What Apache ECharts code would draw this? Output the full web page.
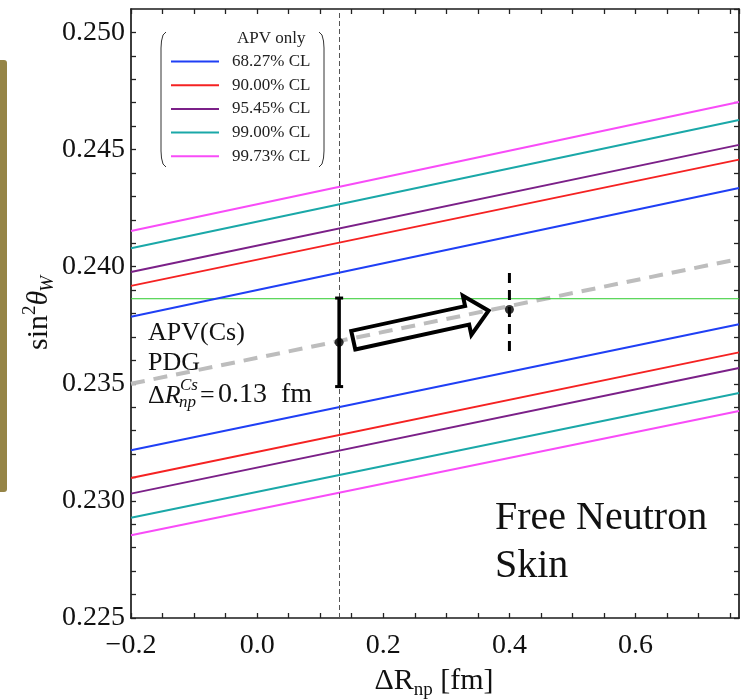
<!DOCTYPE html>
<html><head><meta charset="utf-8">
<script src="https://cdn.jsdelivr.net/npm/echarts@6/dist/echarts.min.js"></script>
<style>html,body{margin:0;padding:0;background:#fff}#c{width:743px;height:700px}</style>
</head><body><div id="c"></div>
<script>
// ---- data ----
const xEnds = [-0.2, 0.764];
const clNames = ['68.27% CL', '90.00% CL', '95.45% CL', '99.00% CL', '99.73% CL'];
const upper68 = [0.23786, 0.24336];
const upper90 = [0.23918, 0.24457];
const upper9545 = [0.23977, 0.24520];
const upper99 = [0.24079, 0.24626];
const upper9973 = [0.24152, 0.24703];
const lower68 = [0.23216, 0.23754];
const lower90 = [0.23098, 0.23634];
const lower9545 = [0.23031, 0.23567];
const lower99 = [0.22928, 0.23461];
const lower9973 = [0.22853, 0.23384];
const fitLine = [0.2350, 0.24033];
const pdgValue = 0.23863;
const apvX = 0.13, apvY = 0.23677, apvErr = 0.00189;
const shiftX = 0.4, shiftY = 0.23817, shiftErr = 0.00177;
const arrowTail = [0.1524, 0.23686];
const arrowTip = [0.367, 0.23812];
const xTicks = [-0.2, 0.0, 0.2, 0.4, 0.6];
const yTicks = [0.225, 0.230, 0.235, 0.240, 0.245, 0.250];

const uppers = [upper68, upper90, upper9545, upper99, upper9973];
const lowers = [lower68, lower90, lower9545, lower99, lower9973];
const colors = ['#1f3ff5', '#f52222', '#7b2088', '#1aa8a8', '#f84cf8'];
const SERIF = '"Liberation Serif", "DejaVu Serif", serif';

const mctx = document.createElement('canvas').getContext('2d');
function tw(t, size, italic) {
  mctx.font = (italic ? 'italic ' : '') + size + 'px ' + SERIF;
  return mctx.measureText(t).width;
}
function run(pieces, startX, cy) {
  let x = startX;
  return pieces.map(p => {
    const el = {type: 'text', x: x, y: cy + (p.dy || 0), silent: true,
      style: {text: p.t, fontFamily: SERIF, fontSize: p.s, fontStyle: p.it ? 'italic' : 'normal',
        fill: '#111', verticalAlign: 'middle', align: 'left'}};
    x += tw(p.t, p.s, p.it) + (p.gap || 0);
    return el;
  });
}
function runWidth(pieces) {
  return pieces.reduce((a, p) => a + tw(p.t, p.s, p.it) + (p.gap || 0), 0);
}

const chart = echarts.init(document.getElementById('c'), null, {renderer: 'canvas'});

const series = [];
clNames.forEach((n, i) => {
  [uppers[i], lowers[i]].forEach(arr => {
    series.push({
      name: n, type: 'line', symbol: 'none', silent: true,
      data: xEnds.map((x, j) => [x, arr[j]]),
      lineStyle: {color: colors[i], width: 2}, itemStyle: {color: colors[i]}, z: 3
    });
  });
});
series.push({
  name: 'fit', type: 'line', symbol: 'none', silent: true,
  data: xEnds.map((x, j) => [x, fitLine[j]]),
  lineStyle: {color: '#bdbdbd', width: 4, type: [14, 9]}, z: 2,
  markLine: {silent: true, symbol: 'none', label: {show: false},
    lineStyle: {color: '#555', width: 1, type: [5, 3]}, data: [{xAxis: apvX}]}
});
series.push({
  name: 'pdg', type: 'line', symbol: 'none', silent: true,
  data: xEnds.map(x => [x, pdgValue]),
  lineStyle: {color: '#2ecc2e', width: 1}, z: 2
});
series.push({
  name: 'apvErr', type: 'line', symbol: 'rect', symbolSize: [8, 3], showSymbol: true, silent: true,
  data: [[apvX, apvY - apvErr], [apvX, apvY + apvErr]],
  lineStyle: {color: '#000', width: 3.5}, itemStyle: {color: '#000'}, z: 5
});
series.push({
  name: 'shiftErr', type: 'line', symbol: 'none', silent: true,
  data: [[shiftX, shiftY - shiftErr], [shiftX, shiftY + shiftErr]],
  lineStyle: {color: '#000', width: 3, type: [10, 7]}, z: 5
});
series.push({
  name: 'points', type: 'scatter', symbol: 'circle', symbolSize: 9, silent: true,
  data: [[apvX, apvY], [shiftX, shiftY]], itemStyle: {color: '#000'}, z: 6
});
series.push({
  name: 'arrow', type: 'custom', silent: true, z: 6,
  data: [[arrowTail[0], arrowTail[1], arrowTip[0], arrowTip[1]]],
  encode: {x: [0, 2], y: [1, 3]},
  renderItem: function (params, api) {
    const p0 = api.coord([api.value(0), api.value(1)]);
    const p1 = api.coord([api.value(2), api.value(3)]);
    const dx = p1[0] - p0[0], dy = p1[1] - p0[1];
    const L = Math.hypot(dx, dy);
    const ux = dx / L, uy = dy / L, nx = -uy, ny = ux;
    const hw = 9.5, hh = 20, hl = 22;
    const bx = p1[0] - ux * hl, by = p1[1] - uy * hl;
    const pts = [
      [p0[0] + nx * hw, p0[1] + ny * hw], [bx + nx * hw, by + ny * hw], [bx + nx * hh, by + ny * hh],
      p1, [bx - nx * hh, by - ny * hh], [bx - nx * hw, by - ny * hw], [p0[0] - nx * hw, p0[1] - ny * hw]
    ];
    return {type: 'polygon', shape: {points: pts},
      style: {fill: null, stroke: '#000', lineWidth: 4, lineJoin: 'miter'}};
  }
});

const axisLineStyle = {color: '#1a1a1a', width: 1.7};
function xFmt(v) {
  const k = Math.round(v * 100);
  if (k % 20 !== 0) return '';
  return v < 0 ? '\u2212' + Math.abs(v).toFixed(1) : v.toFixed(1);
}
function yFmt(v) {
  const k = Math.round(v * 1000);
  if (k % 5 !== 0) return '';
  return v.toFixed(3);
}
function xAxisDef(pos, showLabel) {
  return {type: 'value', position: pos, min: xTicks[0], max: xEnds[1], interval: 0.05,
    axisLine: {show: true, onZero: false, lineStyle: axisLineStyle},
    axisTick: {show: true, inside: true, length: 5, lineStyle: {color: '#222', width: 1.3}},
    splitLine: {show: false},
    axisLabel: {show: showLabel, formatter: xFmt, fontFamily: SERIF, fontSize: 28, color: '#111', margin: 14,
      showMaxLabel: false, hideOverlap: false}};
}
function yAxisDef(pos, showLabel) {
  return {type: 'value', position: pos, min: yTicks[0], max: 0.251, interval: 0.001,
    axisLine: {show: true, onZero: false, lineStyle: axisLineStyle},
    axisTick: {show: true, inside: true, length: 5, lineStyle: {color: '#222', width: 1.3}},
    splitLine: {show: false},
    axisLabel: {show: showLabel, formatter: yFmt, fontFamily: SERIF, fontSize: 28, color: '#111', margin: 6,
      showMaxLabel: false, hideOverlap: false}};
}

const bracketL = [[166, 32], [163, 35], [161.5, 41], [161, 48], [161, 151], [161.5, 158], [163, 164], [166, 167]];
const bracketR = bracketL.map(p => [485 - p[0], p[1]]);

const xTitle = [{t: 'ΔR', s: 30}, {t: 'np', s: 19, dy: 9}, {t: ' [fm]', s: 30}];
const xTitleEls = run(xTitle, 434 - runWidth(xTitle) / 2, 681);
const yTitle = [{t: 'sin', s: 30}, {t: '2', s: 19, dy: -9}, {t: 'θ', s: 30, it: true, gap: -1}, {t: 'W', s: 19, it: true, dy: 9}];
const yTitleEls = run(yTitle, -runWidth(yTitle) / 2, 0);
const deltaLine = [{t: 'Δ', s: 26}, {t: 'R', s: 26, it: true}];

const option = {
  animation: false,
  backgroundColor: '#fff',
  grid: {left: 131, right: 4, top: 9, bottom: 82, containLabel: false},
  xAxis: [xAxisDef('bottom', true), xAxisDef('top', false)],
  yAxis: [yAxisDef('left', true), yAxisDef('right', false)],
  legend: {
    data: clNames, orient: 'vertical', left: 171, top: 53, padding: 0, icon: 'rect',
    itemWidth: 48, itemHeight: 2, itemGap: 6.7, selectedMode: false,
    textStyle: {fontFamily: SERIF, fontSize: 17, color: '#222', lineHeight: 17, padding: [0, 0, 0, 8]}
  },
  series: series,
  graphic: [
    {type: 'rect', shape: {x: 0, y: 60, width: 7, height: 432, r: [0, 3, 3, 0]}, style: {fill: '#958446'}, silent: true},
    {type: 'text', x: 237, y: 39, style: {text: 'APV only', fontFamily: SERIF, fontSize: 17, fill: '#222', verticalAlign: 'middle'}},
    {type: 'polyline', shape: {points: bracketL}, style: {fill: null, stroke: '#333', lineWidth: 1}},
    {type: 'polyline', shape: {points: bracketR}, style: {fill: null, stroke: '#333', lineWidth: 1}},
    {type: 'text', x: 148, y: 333, style: {text: 'APV(Cs)', fontFamily: SERIF, fontSize: 26, fill: '#111', verticalAlign: 'middle'}},
    {type: 'text', x: 148, y: 363, style: {text: 'PDG', fontFamily: SERIF, fontSize: 26, fill: '#111', verticalAlign: 'middle'}},
    ...run(deltaLine, 148, 396),
    {type: 'text', x: 180, y: 386, style: {text: 'Cs', fontFamily: SERIF, fontStyle: 'italic', fontSize: 17, fill: '#111', verticalAlign: 'middle'}},
    {type: 'text', x: 179, y: 403, style: {text: 'np', fontFamily: SERIF, fontStyle: 'italic', fontSize: 17, fill: '#111', verticalAlign: 'middle'}},
    {type: 'text', x: 200, y: 396, style: {text: '=', fontFamily: SERIF, fontSize: 26, fill: '#111', verticalAlign: 'middle'}},
    {type: 'text', x: 218, y: 395, style: {text: '0.13', fontFamily: SERIF, fontSize: 28, fill: '#111', verticalAlign: 'middle'}},
    {type: 'text', x: 281, y: 395, style: {text: 'fm', fontFamily: SERIF, fontSize: 28, fill: '#111', verticalAlign: 'middle'}},
    {type: 'text', x: 495, y: 518, style: {text: 'Free Neutron', fontFamily: SERIF, fontSize: 40, fill: '#111', verticalAlign: 'middle'}},
    {type: 'text', x: 495, y: 566, style: {text: 'Skin', fontFamily: SERIF, fontSize: 40, fill: '#111', verticalAlign: 'middle'}},
    ...xTitleEls,
    {type: 'group', x: 39, y: 313, rotation: Math.PI / 2, children: yTitleEls}
  ]
};
chart.setOption(option);
</script></body></html>
